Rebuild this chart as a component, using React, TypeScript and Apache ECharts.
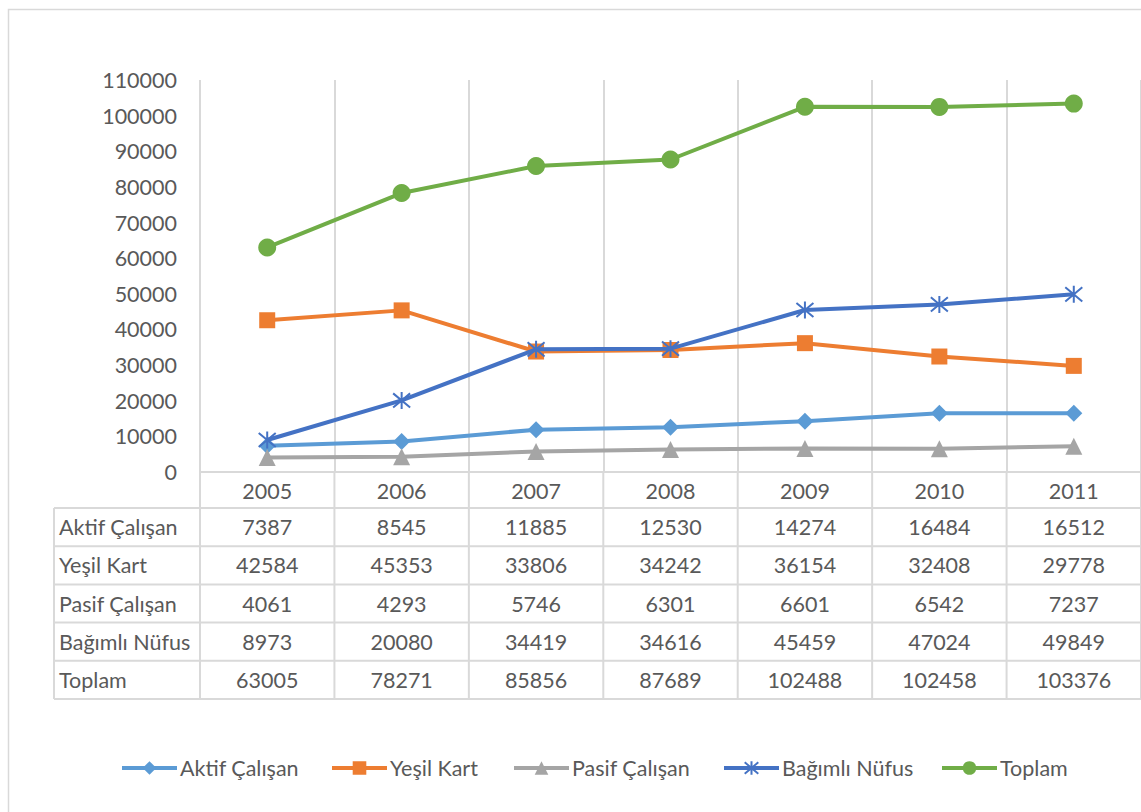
import React, { useEffect, useRef } from "react";
import * as echarts from "echarts";

const years = ["2005", "2006", "2007", "2008", "2009", "2010", "2011"];
const seriesNames = ["Aktif Çalışan", "Yeşil Kart", "Pasif Çalışan", "Bağımlı Nüfus", "Toplam"];
const aktif = [7387, 8545, 11885, 12530, 14274, 16484, 16512];
const yesil = [42584, 45353, 33806, 34242, 36154, 32408, 29778];
const pasif = [4061, 4293, 5746, 6301, 6601, 6542, 7237];
const bagimli = [8973, 20080, 34419, 34616, 45459, 47024, 49849];
const toplam = [63005, 78271, 85856, 87689, 102488, 102458, 103376];
const yMax = 110000;
const yStep = 10000;

const colors = ["#5B9BD5", "#ED7D31", "#A5A5A5", "#4472C4", "#70AD47"];
const symbols = [
  "diamond",
  "rect",
  "triangle",
  "path://M0,0L10,10M10,0L0,10M5,-1L5,11",
  "circle",
];
const symbolSizes = [17, 16, 17, 17, 18];
const legendLeft = [120, 330, 512, 722, 940];

const W = 1141;
const H = 812;
const GRID_LEFT = 200;
const GRID_TOP = 80;
const AXIS_Y = 472;
const TABLE_TOP = 508;
const TABLE_BOTTOM = 699;
const TABLE_LEFT = 54;
const FONT = "Lato, 'Noto Sans', sans-serif";
const FS = 21.5;
const TXT = "#595959";
const LINE = "#D9D9D9";

export default function App() {
  const ref = useRef<HTMLDivElement>(null);
  useEffect(() => {
    if (!ref.current) return;
    const chart = echarts.init(ref.current, undefined, { renderer: "svg" });
    const values = [aktif, yesil, pasif, bagimli, toplam];
    const band = (W - GRID_LEFT) / years.length;
    const rowH = (TABLE_BOTTOM - TABLE_TOP) / values.length;

    const graphic: any[] = [];
    graphic.push({
      type: "rect",
      shape: { x: 8.5, y: 9.5, width: W + 10, height: H + 10 },
      style: { fill: "none", stroke: LINE, lineWidth: 1.5 },
      silent: true,
    });
    for (let i = 0; i <= years.length; i++) {
      const x = GRID_LEFT + i * band;
      graphic.push({
        type: "line",
        shape: { x1: x, y1: AXIS_Y, x2: x, y2: TABLE_BOTTOM },
        style: { stroke: LINE, lineWidth: 2 },
        silent: true,
      });
    }
    graphic.push({
      type: "line",
      shape: { x1: TABLE_LEFT, y1: TABLE_TOP, x2: TABLE_LEFT, y2: TABLE_BOTTOM },
      style: { stroke: LINE, lineWidth: 2 },
      silent: true,
    });
    for (let r = 0; r <= values.length; r++) {
      const y = TABLE_TOP + r * rowH;
      graphic.push({
        type: "line",
        shape: { x1: TABLE_LEFT, y1: y, x2: W, y2: y },
        style: { stroke: LINE, lineWidth: 2 },
        silent: true,
      });
    }
    values.forEach((vals, r) => {
      const cy = TABLE_TOP + (r + 0.5) * rowH;
      graphic.push({
        type: "text",
        x: 59,
        y: cy,
        style: {
          text: seriesNames[r],
          fill: TXT,
          fontSize: FS,
          fontFamily: FONT,
          align: "left",
          verticalAlign: "middle",
          textAlign: "left",
          textVerticalAlign: "middle",
        },
        silent: true,
      });
      vals.forEach((v, c) => {
        graphic.push({
          type: "text",
          x: GRID_LEFT + (c + 0.5) * band,
          y: cy,
          style: {
            text: String(v),
            fill: TXT,
            fontSize: FS,
            fontFamily: FONT,
            align: "center",
            verticalAlign: "middle",
            textAlign: "center",
            textVerticalAlign: "middle",
          },
          silent: true,
        });
      });
    });

    const series = values.map((vals, i) => ({
      name: seriesNames[i],
      type: "line",
      data: vals,
      symbol: symbols[i],
      symbolSize: symbolSizes[i],
      lineStyle: { color: colors[i], width: 4 },
      itemStyle:
        i === 3
          ? { color: colors[i], borderColor: colors[i], borderWidth: 2 }
          : { color: colors[i], borderWidth: 0 },
      z: 2 + i,
    }));

    const legends = seriesNames.map((n, i) => ({
      data: [n],
      left: legendLeft[i],
      top: 757,
      itemWidth: 55,
      itemHeight: 17,
      itemGap: 0,
      padding: 0,
      lineStyle: { width: 4 },
      textStyle: { fontSize: FS, color: TXT, fontFamily: FONT, padding: [0, 0, 0, -2] },
    }));

    chart.setOption({
      animation: false,
      backgroundColor: "#ffffff",
      grid: { left: GRID_LEFT, right: 0, top: GRID_TOP, bottom: H - AXIS_Y, containLabel: false },
      xAxis: {
        type: "category",
        data: years,
        boundaryGap: true,
        axisLine: { show: true, lineStyle: { color: LINE, width: 2 } },
        axisTick: { show: false },
        axisLabel: { color: TXT, fontSize: FS, fontFamily: FONT, margin: 8 },
        splitLine: { show: true, lineStyle: { color: LINE, width: 2 } },
      },
      yAxis: {
        type: "value",
        min: 0,
        max: yMax,
        interval: yStep,
        axisLine: { show: false },
        axisTick: { show: false },
        splitLine: { show: false },
        axisLabel: {
          color: TXT,
          fontSize: FS,
          fontFamily: FONT,
          margin: 23,
          formatter: (v: number) => String(v),
        },
      },
      legend: legends,
      series,
      graphic,
    });
    return () => chart.dispose();
  }, []);
  return (
    <div
      ref={ref}
      style={{ position: "fixed", left: 0, top: 0, width: W, height: H, background: "#fff" }}
    />
  );
}
